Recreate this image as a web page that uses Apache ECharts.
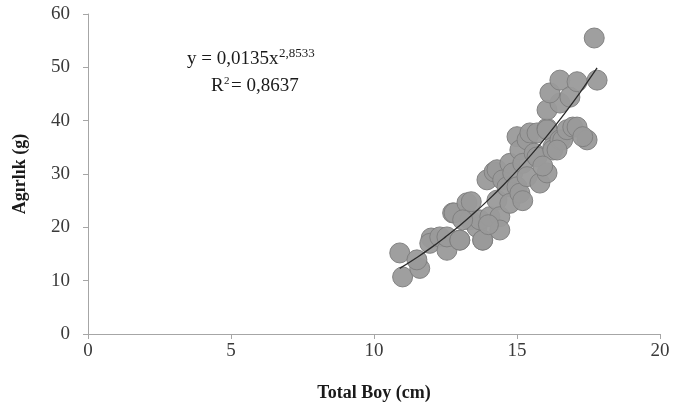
<!DOCTYPE html>
<html>
<head>
<meta charset="utf-8">
<script src="https://cdn.jsdelivr.net/npm/echarts@6/dist/echarts.min.js"></script>
<style>
  html, body { margin: 0; padding: 0; background: #fff; }
  #chart { width: 674px; height: 407px; }
</style>
</head>
<body>
<div id="chart"></div>
<script>
// total length (cm) and weight (g)
const lengthCm = [10.9, 11.0, 11.6, 11.5, 12.0, 11.95, 12.3, 12.55, 12.55, 12.75, 12.8, 13.0, 13.0, 13.25, 13.35,
  13.4, 13.6, 13.7, 13.8, 13.8, 13.95, 14.05, 14.2, 14.3, 14.3, 14.4, 14.4, 14.5, 14.65, 14.75,
  14.75, 14.85, 15.0, 15.0, 15.1, 15.1, 15.2, 15.2, 15.35, 15.35, 15.45, 15.6, 15.7, 15.7, 15.8,
  16.05, 16.05, 16.05, 16.25, 16.25, 16.5, 16.6, 16.75, 16.95, 17.1, 17.45, 17.3, 16.05, 16.5, 16.15,
  16.5, 16.85, 17.1, 17.8, 17.7, 13.1, 14.0, 15.9, 16.4];
const weightG = [15.2, 10.7, 12.3, 13.9, 18.0, 17.0, 18.2, 15.7, 18.2, 22.7, 22.7, 17.6, 17.6, 24.6, 21.4,
  24.8, 20.0, 21.4, 17.6, 17.6, 28.9, 22.0, 30.4, 30.8, 25.1, 22.0, 19.5, 28.9, 27.6, 32.0,
  24.5, 30.2, 27.6, 37.0, 34.5, 26.4, 32.0, 25.0, 36.4, 29.5, 37.7, 33.9, 37.7, 33.2, 28.3,
  30.2, 38.6, 38.3, 35.0, 34.5, 36.4, 36.4, 38.3, 38.8, 38.8, 36.4, 37.0, 42.0, 43.3, 45.2,
  47.6, 44.4, 47.3, 47.6, 55.5, 21.4, 20.5, 31.5, 34.5];

// power trendline y = 0,0135x^2,8533, sampled values
const trendX = [10.9, 11.5, 12, 12.5, 13, 13.5, 14, 14.5, 15, 15.5, 16, 16.5, 17, 17.5, 17.8];
const trendY = [12.3, 14.35, 16.2, 18.21, 20.35, 22.67, 25.15, 27.8, 30.63, 33.62, 36.82, 40.19, 43.76, 47.56, 49.9];

const xTicks = [0, 5, 10, 15, 20];
const yTicks = [0, 10, 20, 30, 40, 50, 60];

const serif = '"Liberation Serif", "DejaVu Serif", serif';
const chart = echarts.init(document.getElementById('chart'));

chart.setOption({
  backgroundColor: '#fff',
  animation: false,
  grid: { left: 88, right: 14, top: 14, bottom: 73 },
  xAxis: {
    type: 'value',
    min: xTicks[0],
    max: xTicks[xTicks.length - 1],
    interval: 5,
    name: 'Total Boy (cm)',
    nameLocation: 'middle',
    nameGap: 50,
    nameTextStyle: { fontFamily: serif, fontWeight: 'bold', fontSize: 18, color: '#1a1a1a' },
    axisLine: { lineStyle: { color: '#a6a6a6', width: 1 } },
    axisTick: { show: true, length: 5, lineStyle: { color: '#a6a6a6' } },
    axisLabel: { fontFamily: serif, fontSize: 19, color: '#3a3a3a', margin: 8 },
    splitLine: { show: false }
  },
  yAxis: {
    type: 'value',
    min: yTicks[0],
    max: yTicks[yTicks.length - 1],
    interval: 10,
    name: 'Agırlık (g)',
    nameLocation: 'middle',
    nameRotate: 90,
    nameGap: 59,
    nameTextStyle: { fontFamily: serif, fontWeight: 'bold', fontSize: 18, color: '#1a1a1a' },
    axisLine: { show: true, lineStyle: { color: '#a6a6a6', width: 1 } },
    axisTick: { show: true, length: 5, lineStyle: { color: '#a6a6a6' } },
    axisLabel: { fontFamily: serif, fontSize: 19, color: '#3a3a3a', margin: 18 },
    splitLine: { show: false }
  },
  series: [
    {
      type: 'scatter',
      symbol: 'circle',
      symbolSize: 20,
      data: lengthCm.map((x, i) => [x, weightG[i]]),
      itemStyle: { color: '#9a9a9a', borderColor: '#7e7e7e', borderWidth: 1, opacity: 0.95 },
      z: 2
    },
    {
      type: 'line',
      smooth: true,
      showSymbol: false,
      data: trendX.map((x, i) => [x, trendY[i]]),
      lineStyle: { color: '#2a2a2a', width: 1.3 },
      z: 3
    }
  ],
  graphic: [
    {
      type: 'text', left: 187, top: 50,
      style: { text: 'y = 0,0135x', font: '19px ' + serif, fill: '#1a1a1a' }
    },
    {
      type: 'text', left: 279, top: 47,
      style: { text: '2,8533', font: '13px ' + serif, fill: '#1a1a1a' }
    },
    {
      type: 'text', left: 211, top: 77,
      style: { text: 'R', font: '19px ' + serif, fill: '#1a1a1a' }
    },
    {
      type: 'text', left: 224, top: 76,
      style: { text: '2', font: '11px ' + serif, fill: '#1a1a1a' }
    },
    {
      type: 'text', left: 231, top: 77,
      style: { text: '= 0,8637', font: '19px ' + serif, fill: '#1a1a1a' }
    }
  ]
});
</script>
</body>
</html>
